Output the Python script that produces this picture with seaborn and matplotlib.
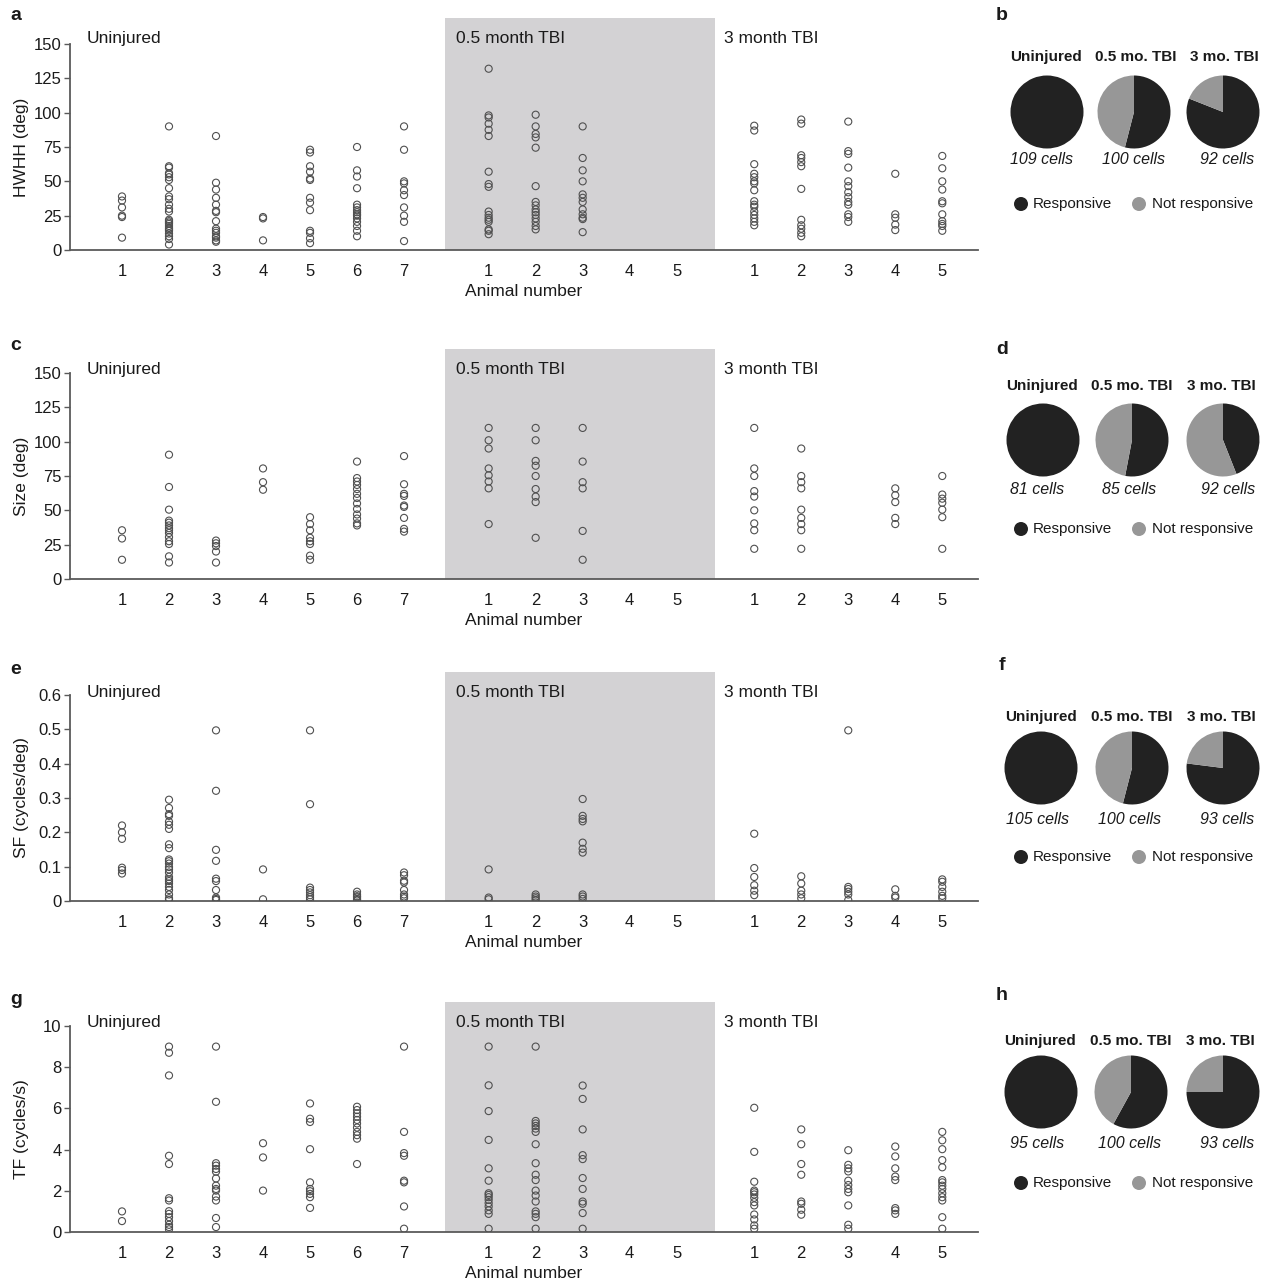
import numpy as np
import pandas as pd
import matplotlib
matplotlib.use("Agg")
import matplotlib.pyplot as plt
import seaborn as sns
from matplotlib.patches import Circle

# ---------------- data ----------------
groups = ["Uninjured", "0.5 month TBI", "3 month TBI"]
n_animals = [7, 5, 5]

hwhh_uninjured = [
    [39, 36, 31, 25, 24, 9],
    [90, 61, 60, 56, 55, 53, 51, 45, 39, 37, 33, 30, 28, 22, 21, 20, 19, 17.5, 16, 15, 14, 12, 10, 8, 4],
    [83, 49, 44, 38, 33, 28.5, 27.5, 21, 15.5, 14, 12.5, 10, 9, 7, 6],
    [24, 23, 7],
    [73, 71, 61, 57, 52, 51, 38, 34.5, 29, 14, 12.5, 8.5, 5],
    [75, 58, 53.5, 45, 33, 31, 29, 27.5, 26, 25, 23, 20.5, 17.5, 14, 10],
    [90, 73, 50, 48.5, 43.5, 40, 31, 25, 20.5, 6.5],
]
hwhh_tbi05 = [
    [132, 98, 96.5, 92, 87.5, 83, 57, 48, 46, 28, 25.5, 23.5, 22, 20.5, 15, 14, 11.5],
    [98.5, 90, 84.5, 82, 74.5, 46.5, 35, 32.5, 29.5, 27.5, 25.5, 23, 20.5, 17.5, 15],
    [90, 67, 58, 50, 40.5, 38, 35, 29.5, 26, 23.5, 22.5, 13],
    [], [],
]
hwhh_tbi3 = [
    [90.5, 87, 62.5, 55.5, 53, 50, 48.5, 43.5, 35.5, 33, 31.5, 28, 25.5, 23, 20.5, 18],
    [95, 92, 69, 67, 64, 61, 44.5, 22, 18, 15.5, 12.5, 10],
    [93.5, 72, 70, 60, 50, 46.5, 42, 38.5, 35, 33, 26, 24, 20.5],
    [55.5, 26, 23.5, 18.5, 14.5],
    [68.5, 59.5, 50, 44, 35.5, 34, 26, 21, 19, 17.5, 14],
]

size_uninjured = [
    [35.5, 29.5, 14],
    [90.5, 67, 50.5, 42.5, 41, 39, 37, 35.5, 33.5, 30.5, 27.5, 25.5, 16.5, 12],
    [28, 26, 24, 20, 12],
    [80.5, 70.5, 65],
    [45, 40, 35.5, 30, 27.5, 25.5, 17, 14],
    [85.5, 73.5, 71, 68.5, 65.5, 62, 59, 55, 51, 47, 44, 40.5, 39],
    [89.5, 69, 62, 60.5, 53.5, 52.5, 44.5, 36.5, 34.5],
]
size_tbi05 = [
    [110, 101, 95, 80.5, 75.5, 71, 66, 40],
    [110, 101, 86, 82.5, 75, 65.5, 60, 56, 30],
    [110, 85.5, 70.5, 66, 35, 14],
    [], [],
]
size_tbi3 = [
    [110, 80.5, 75, 64, 60, 50, 40.5, 35.5, 22],
    [95, 75, 70.5, 66, 50.5, 44.5, 40, 35.5, 22],
    [],
    [66, 61, 56, 44.5, 40],
    [75, 61.5, 58.5, 55.5, 50.5, 45, 22],
]

sf_uninjured = [
    [0.22, 0.2, 0.181, 0.097, 0.09, 0.08],
    [0.295, 0.271, 0.253, 0.248, 0.231, 0.222, 0.21, 0.165, 0.154, 0.121, 0.116, 0.109, 0.099,
     0.092, 0.083, 0.07, 0.063, 0.058, 0.051, 0.041, 0.032, 0.019, 0.008, 0.003],
    [0.497, 0.321, 0.149, 0.117, 0.065, 0.058, 0.032, 0.01, 0.006, 0.003],
    [0.092, 0.005],
    [0.497, 0.282, 0.039, 0.032, 0.025, 0.017, 0.011, 0.005],
    [0.027, 0.019, 0.014, 0.011, 0.006, 0.003],
    [0.083, 0.075, 0.059, 0.054, 0.032, 0.019, 0.013, 0.008],
]
sf_tbi05 = [
    [0.092, 0.01, 0.005],
    [0.019, 0.013, 0.008, 0.003],
    [0.297, 0.248, 0.239, 0.232, 0.17, 0.152, 0.141, 0.019, 0.013, 0.006],
    [], [],
]
sf_tbi3 = [
    [0.196, 0.096, 0.07, 0.046, 0.03, 0.017],
    [0.072, 0.051, 0.03, 0.019, 0.008],
    [0.497, 0.041, 0.035, 0.027, 0.019, 0.003],
    [0.034, 0.015, 0.01],
    [0.063, 0.056, 0.041, 0.027, 0.015, 0.008],
]

tf_uninjured = [
    [1.0, 0.53],
    [9.0, 8.7, 7.6, 3.7, 3.3, 1.64, 1.53, 1.01, 0.88, 0.72, 0.53, 0.35, 0.24, 0.13],
    [9.0, 6.32, 3.34, 3.22, 3.06, 2.93, 2.6, 2.25, 2.09, 2.01, 1.72, 1.53, 0.68, 0.24],
    [4.31, 3.62, 2.01],
    [6.24, 5.5, 5.34, 4.02, 2.41, 2.09, 1.98, 1.85, 1.69, 1.17],
    [6.08, 5.92, 5.76, 5.6, 5.44, 5.27, 5.07, 4.86, 4.7, 4.53, 3.3],
    [9.0, 4.86, 3.83, 3.7, 2.49, 2.41, 1.24, 0.16],
]
tf_tbi05 = [
    [9.0, 7.12, 5.87, 4.47, 3.09, 2.49, 1.88, 1.8, 1.69, 1.56, 1.4, 1.24, 1.05, 0.88, 0.16],
    [9.0, 5.39, 5.27, 5.15, 5.02, 4.86, 4.26, 3.34, 2.78, 2.52, 2.01, 1.77, 1.48, 1.0, 0.88, 0.72, 0.16],
    [7.11, 6.46, 4.98, 3.73, 3.54, 2.62, 2.09, 1.48, 1.37, 0.92, 0.16],
    [], [],
]
tf_tbi3 = [
    [6.03, 3.89, 2.44, 2.01, 1.93, 1.82, 1.66, 1.45, 1.29, 0.85, 0.61, 0.32, 0.16],
    [4.98, 4.26, 3.3, 2.78, 1.48, 1.37, 1.08, 0.84],
    [3.97, 3.26, 3.09, 2.94, 2.49, 2.28, 2.09, 1.93, 1.29, 0.35, 0.16],
    [4.15, 3.67, 3.09, 2.69, 2.52, 1.16, 1.05, 0.88],
    [4.86, 4.45, 4.02, 3.49, 3.14, 2.52, 2.41, 2.25, 2.09, 1.88, 1.69, 1.53, 0.72, 0.16],
]

# pie data: % responsive (rest not responsive)
pie_titles = ["Uninjured", "0.5 mo. TBI", "3 mo. TBI"]
pct_resp_b = [100, 54, 81]
pct_resp_d = [100, 53, 44]
pct_resp_f = [100, 54, 77]
pct_resp_h = [100, 58, 75]
cells_b = ["109 cells", "100 cells", "92 cells"]
cells_d = ["81 cells", "85 cells", "92 cells"]
cells_f = ["105 cells", "100 cells", "93 cells"]
cells_h = ["95 cells", "100 cells", "93 cells"]

# ---------------- style ----------------
sns.set_theme(style="white")
plt.rcParams["font.family"] = ["Liberation Sans", "DejaVu Sans"]
TXT = "#1a1a1a"
AXC = "#5a5a5a"
DARK = "#222222"
GREY = "#979797"
BAND = "#d3d2d4"

W, H = 1269, 1286
fig = plt.figure(figsize=(W / 100, H / 100), dpi=100)


def fx(px):
    return px / W


def fy(py):
    return 1 - py / H


group_base = {"Uninjured": 0.0, "0.5 month TBI": 7.8, "3 month TBI": 13.45}


def make_df(*series):
    rows = []
    for g, ser in zip(groups, series):
        for a, vals in enumerate(ser):
            for v in vals:
                rows.append((g, a + 1, group_base[g] + a, v))
    return pd.DataFrame(rows, columns=["group", "animal", "x", "value"])


scatter_rows = [
    dict(letter="a", df=make_df(hwhh_uninjured, hwhh_tbi05, hwhh_tbi3), ylabel="HWHH (deg)",
         yticks=[0, 25, 50, 75, 100, 125, 150], yticklabels=["0", "25", "50", "75", "100", "125", "150"],
         top=18, bottom=250),
    dict(letter="c", df=make_df(size_uninjured, size_tbi05, size_tbi3), ylabel="Size (deg)",
         yticks=[0, 25, 50, 75, 100, 125, 150], yticklabels=["0", "25", "50", "75", "100", "125", "150"],
         top=349, bottom=579),
    dict(letter="e", df=make_df(sf_uninjured, sf_tbi05, sf_tbi3), ylabel="SF (cycles/deg)",
         yticks=[0, 0.1, 0.2, 0.3, 0.4, 0.5, 0.6], yticklabels=["0", "0.1", "0.2", "0.3", "0.4", "0.5", "0.6"],
         top=672, bottom=901),
    dict(letter="g", df=make_df(tf_uninjured, tf_tbi05, tf_tbi3), ylabel="TF (cycles/s)",
         yticks=[0, 2, 4, 6, 8, 10], yticklabels=["0", "2", "4", "6", "8", "10"],
         top=1002, bottom=1232),
]

SPINE_PX = 206  # pixel length of y spine
for r in scatter_rows:
    ax = fig.add_axes([fx(70), fy(r["bottom"]), fx(978) - fx(70), (r["bottom"] - r["top"]) / H])
    ymax = r["yticks"][-1]
    ytop = ymax * (r["bottom"] - r["top"]) / SPINE_PX
    ax.axvspan(6.87, 12.62, color=BAND, lw=0, zorder=0)
    sns.scatterplot(data=r["df"], x="x", y="value", ax=ax, marker="o", s=26,
                    facecolor="none", edgecolor="#505050", linewidth=0.8, legend=False, zorder=3)
    ax.set_xlim(-1.106, 18.21)
    ax.set_ylim(0, ytop)
    xt, xl = [], []
    for g, n in zip(groups, n_animals):
        for a in range(n):
            xt.append(group_base[g] + a)
            xl.append(str(a + 1))
    ax.set_xticks(xt)
    ax.set_xticklabels(xl)
    ax.set_yticks(r["yticks"])
    ax.set_yticklabels(r["yticklabels"])
    for s in ["top", "right"]:
        ax.spines[s].set_visible(False)
    ax.spines["left"].set_bounds(0, ymax)
    for s in ["left", "bottom"]:
        ax.spines[s].set_color(AXC)
        ax.spines[s].set_linewidth(1.3)
    ax.tick_params(axis="y", left=True, length=4, width=1, color=AXC, labelsize=12, pad=2, labelcolor=TXT)
    ax.tick_params(axis="x", bottom=False, length=0, labelsize=12, pad=10, labelcolor=TXT)
    ax.set_xlabel("Animal number", fontsize=12.5, color=TXT, labelpad=4)
    ax.set_ylabel(r["ylabel"], fontsize=12.5, color=TXT)
    ax.yaxis.set_label_coords(-0.045, (ymax / 2) / ytop)
    ax.grid(False)
    for g, xx in zip(groups, [-0.75, 7.1, 12.81]):
        ax.text(xx, 0.912, g, transform=ax.get_xaxis_transform(), fontsize=12.5,
                ha="left", va="center", color=TXT)
    fig.text(fx(16), fy(r["top"] - 3), r["letter"], fontsize=14, fontweight="bold",
             ha="center", va="center", color=TXT)

# ---------------- pies ----------------
pax = fig.add_axes([fx(990), 0, fx(1269) - fx(990), 1])
pie_rows = [
    dict(letter="b", ly=15, pct=pct_resp_b, cells=cells_b, cx=[1047, 1134, 1223], cy=112,
         ty=57, celly=159, legy=204,
         tx=[1046, 1136, 1224], cellx=[1041, 1134, 1227]),
    dict(letter="d", ly=350, pct=pct_resp_d, cells=cells_d, cx=[1043, 1132, 1223], cy=440,
         ty=386, celly=489, legy=529,
         tx=[1042, 1132, 1221], cellx=[1037, 1129, 1228]),
    dict(letter="f", ly=665, pct=pct_resp_f, cells=cells_f, cx=[1041, 1132, 1223], cy=768,
         ty=717, celly=820, legy=857,
         tx=[1041, 1132, 1221], cellx=[1037, 1130, 1227]),
    dict(letter="h", ly=995, pct=pct_resp_h, cells=cells_h, cx=[1041, 1131, 1223], cy=1092,
         ty=1041, celly=1143, legy=1183,
         tx=[1040, 1131, 1220], cellx=[1037, 1130, 1227]),
]
R = 36.5
for pr in pie_rows:
    cy = pr["cy"]
    for i in range(3):
        p = pr["pct"][i]
        vals = [p, 100 - p]
        cols = [DARK, GREY]
        vv = [v for v in vals if v > 0]
        cc = [c for v, c in zip(vals, cols) if v > 0]
        pax.pie(vv, colors=cc, startangle=90, counterclock=False, center=(pr["cx"][i], -cy),
                radius=R, wedgeprops=dict(linewidth=0))
        pax.text(pr["tx"][i], -pr["ty"], pie_titles[i], fontsize=11, fontweight="bold",
                 ha="center", va="center", color=TXT)
        pax.text(pr["cellx"][i], -pr["celly"], pr["cells"][i], fontsize=11.5, fontstyle="italic",
                 ha="center", va="center", color=TXT)
    legy = pr["legy"]
    pax.add_patch(Circle((1021, -legy), 7, color=DARK, lw=0))
    pax.text(1033, -legy, "Responsive", fontsize=11, ha="left", va="center", color=TXT)
    pax.add_patch(Circle((1139, -legy), 7, color=GREY, lw=0))
    pax.text(1152, -legy, "Not responsive", fontsize=11, ha="left", va="center", color=TXT)
    pax.text(1002, -pr["ly"], pr["letter"], fontsize=14, fontweight="bold",
             ha="center", va="center", color=TXT)

pax.set_aspect("auto")
pax.set_xlim(990, 1269)
pax.set_ylim(-1286, 0)
pax.axis("off")

fig.savefig("out.png", dpi=100)
